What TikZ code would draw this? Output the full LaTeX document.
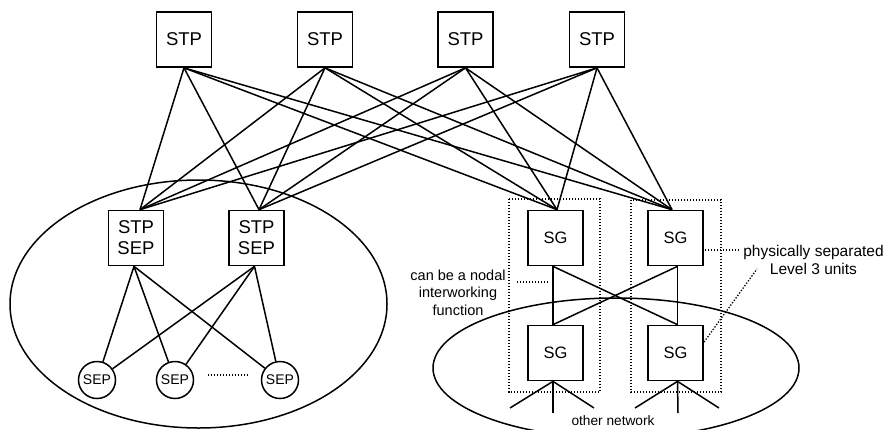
\documentclass[tikz,border=0pt]{standalone}
\usepackage{fontspec}
\setmainfont{Liberation Sans}
\usetikzlibrary{calc}
\begin{document}
\begin{tikzpicture}[x=1pt,y=-1pt,
  box/.style={draw,line width=1.7pt,minimum width=55pt,minimum height=55pt,
    inner sep=0pt,align=center,font=\fontsize{18.5}{21}\selectfont},
  sgbox/.style={box,font=\fontsize{16.5}{19}\selectfont},
  sepnode/.style={draw,circle,line width=1.5pt,minimum size=37pt,inner sep=0pt,
    font=\fontsize{14}{16}\selectfont},
  link/.style={line width=1.5pt},
  grp/.style={line width=1.4pt,dash pattern=on 1.4pt off 1.6pt},
  pointer/.style={line width=1.3pt,dash pattern=on 1.3pt off 1.7pt},
  netarea/.style={line width=1.5pt},
  note/.style={align=center,inner sep=0pt}]

\useasboundingbox (0,0) rectangle (888,429);
\clip (0,0) rectangle (888,429);

% network areas
\draw[netarea] (198.5,304) ellipse [x radius=188.5pt, y radius=124pt];
\draw[netarea] (616,368) ellipse [x radius=183pt, y radius=70pt];

% level-3 unit groupings
\draw[grp] (509,199) rectangle (600,392);
\draw[grp] (631,200) rectangle (721,392);

% top-level transfer points
\node[box] (stp1) at (184,39.5) {STP};
\node[box] (stp2) at (325,39.5) {STP};
\node[box] (stp3) at (465.5,39.5) {STP};
\node[box] (stp4) at (597,39.5) {STP};

% combined STP/SEP nodes
\node[box] (ss1) at (136,238) {STP\\SEP};
\node[box] (ss2) at (256.5,238) {STP\\SEP};

% signalling end points
\node[sepnode] (sep1) at (97,380) {SEP};
\node[sepnode] (sep2) at (175,380) {SEP};
\node[sepnode] (sep3) at (280,380) {SEP};
\coordinate (dotsL) at (208,375);
\coordinate (dotsR) at (248,375);
\draw[pointer] (dotsL) -- (dotsR);

% gateways
\node[sgbox] (sg1) at (555.5,238) {SG};
\node[sgbox] (sg2) at (675.5,238) {SG};
\node[sgbox] (sg3) at (555.5,353) {SG};
\node[sgbox] (sg4) at (675.5,353) {SG};

% entry points on the lower nodes
\coordinate (ss1in) at ([xshift=4pt]ss1.north);
\coordinate (ss2in) at ([xshift=2.5pt]ss2.north);
\coordinate (sg1in) at ([xshift=1.5pt]sg1.north);
\coordinate (sg2in) at ([xshift=-3.5pt]sg2.north);

% STP mesh
\foreach \t in {stp1,stp2,stp3,stp4}
  \foreach \b in {ss1in,ss2in,sg1in,sg2in}
    \draw[link] (\t.south) -- (\b);

% STP/SEP to SEP
\foreach \a in {ss1,ss2}
  \foreach \s in {sep1,sep2,sep3}
    \draw[link] ([xshift=-2pt]\a.south) -- (\s);

% gateway cross links
\draw[link] ([xshift=-2.5pt]sg1.south) -- ([xshift=-2.5pt]sg3.north);
\draw[link] ([xshift=-2.5pt]sg1.south) -- ([xshift=2pt]sg4.north);
\draw[link] ([xshift=2pt]sg2.south) -- ([xshift=-2.5pt]sg3.north);
\draw[link] ([xshift=2pt]sg2.south) -- ([xshift=2pt]sg4.north);

% links into the other network
\coordinate (a1) at (510,408);
\coordinate (a2) at (553,413);
\coordinate (a3) at (594,408);
\coordinate (b1) at (635,408);
\coordinate (b2) at (678,413);
\coordinate (b3) at (719,408);
\foreach \e in {a1,a2,a3}
  \draw[link] ([xshift=-2.5pt]sg3.south) -- (\e);
\foreach \e in {b1,b2,b3}
  \draw[link] ([xshift=2pt]sg4.south) -- (\e);

% annotations
\node[note,font=\fontsize{14.5}{17.5}\selectfont] (nodal) at (458,292.5)
  {can be a nodal\\interworking\\function};
\coordinate (p1a) at (517,282);
\coordinate (p1b) at (548,282);
\draw[pointer] (p1a) -- (p1b);

\node[note,font=\fontsize{15.5}{18}\selectfont] (phys) at (813.5,259.5)
  {physically separated\\Level 3 units};
\coordinate (p2a) at (705,250);
\coordinate (p2b) at (739,250);
\draw[pointer] (p2a) -- (p2b);
\coordinate (p3a) at (704,342);
\coordinate (p3b) at (757,269);
\draw[pointer] (p3a) -- (p3b);

\node[note,font=\fontsize{13.7}{16}\selectfont] (other) at (613,421) {other network};

\end{tikzpicture}
\end{document}
